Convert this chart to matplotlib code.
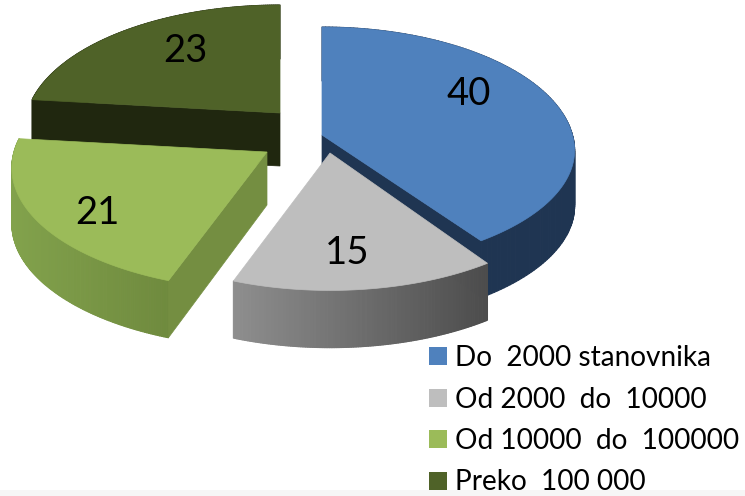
import numpy as np
import matplotlib
matplotlib.use("Agg")
import matplotlib.pyplot as plt
from matplotlib.collections import PolyCollection
from matplotlib.patches import Polygon, Rectangle
from matplotlib.colors import to_rgb

# --- data ---
categories = ["Do  2000 stanovnika", "Od 2000  do  10000", "Od 10000  do  100000", "Preko  100 000"]
values = [40, 15, 21, 23]
top_colors = ["#4F81BD", "#BEBEBE", "#9BBB59", "#4F6228"]

# --- style / layout (pixel space) ---
apex = [(322, 135), (330, 153), (267, 152), (280, 113)]
radius_scale = [0.99, 0.98, 1.0, 1.0]
front_scale = [0.94, 0.98, 0.985, 1.0]
side_left = ["#1F3552", "#8E8E8E", "#82A24C", "#20270F"]
side_right = ["#1F3552", "#4C4C4C", "#6F8A3E", "#20270F"]
cut_color = ["#1F3552", "#4C4C4C", "#748E41", "#20270F"]
cut_edge = [1, None, 0, 0]   # which end of the slice shows a cut face (0 start, 1 end)
R, A, K = 253.0, 122.0, 0.13
label_xy = [(469, 93), (347, 252), (97, 212), (185, 50)]
draw_order = [3, 0, 2, 1]
plt.rcParams['font.family'] = ['Lato', 'DejaVu Sans']

fig = plt.figure(figsize=(7.45, 4.96), dpi=100)
ax = fig.add_axes([0, 0, 1, 1])
ax.set_xlim(0, 745)
ax.set_ylim(496, 0)
ax.axis('off')


def project(theta, c, rs, fs):
    xp, yp = np.sin(theta), -np.cos(theta)
    s = 1.0 / (1.0 - K * yp)
    vert = np.where(yp > 0, fs, 1.0)
    return c[0] + R * rs * xp * s, c[1] + A * yp * s * vert


def depth(theta):
    return 55.5 / (1.0 - 0.03 * (-np.cos(theta)))


edges = np.concatenate([[0], np.cumsum(values)]) / np.sum(values) * 2 * np.pi

for layer, i in enumerate(draw_order):
    base_z = 1 + layer * 3
    th = np.linspace(edges[i], edges[i + 1], 160)
    x, y = project(th, apex[i], radius_scale[i], front_scale[i])
    d = depth(th)

    # outer wall as shaded strips
    c0, c1 = np.array(to_rgb(side_left[i])), np.array(to_rgb(side_right[i]))
    quads, cols = [], []
    for j in range(len(th) - 1):
        quads.append([(x[j], y[j]), (x[j + 1], y[j + 1]),
                      (x[j + 1], y[j + 1] + d[j + 1]), (x[j], y[j] + d[j])])
        t = (0.5 * (x[j] + x[j + 1]) - x.min()) / (x.max() - x.min())
        cols.append(c0 + (c1 - c0) * t)
    ax.add_collection(PolyCollection(quads, facecolors=cols, edgecolors=cols,
                                     linewidths=0.8, zorder=base_z))

    # cut face
    if cut_edge[i] is not None:
        k = -1 if cut_edge[i] == 1 else 0
        ax_, ay_ = apex[i]
        ax.add_patch(Polygon([(ax_, ay_), (x[k], y[k]), (x[k], y[k] + d[k]), (ax_, ay_ + 53)],
                             closed=True, fc=cut_color[i], ec=cut_color[i], lw=0.5, zorder=base_z + 1))

    # top surface
    pts = np.vstack([[apex[i]], np.column_stack([x, y])])
    ax.add_patch(Polygon(pts, closed=True, fc=top_colors[i], ec=top_colors[i], lw=0.5, zorder=base_z + 2))
    ax.text(label_xy[i][0], label_xy[i][1] + 1, str(values[i]), fontsize=27.5, color='black',
            ha='center', va='center', zorder=30)

# legend
for n, (lab, col) in enumerate(zip(categories, top_colors)):
    base = 366 + 41.5 * n
    ax.add_patch(Rectangle((429, base - 19), 18, 18, fc=col, ec='none', zorder=20))
    ax.text(455, base, lab, fontsize=20.2, color='black', ha='left', va='baseline', zorder=20)

# pale strip along the lower edge
ax.add_patch(Rectangle((0, 490), 745, 6, fc='#F6F6F6', ec='none', zorder=40))

fig.savefig("out.png", dpi=100)
